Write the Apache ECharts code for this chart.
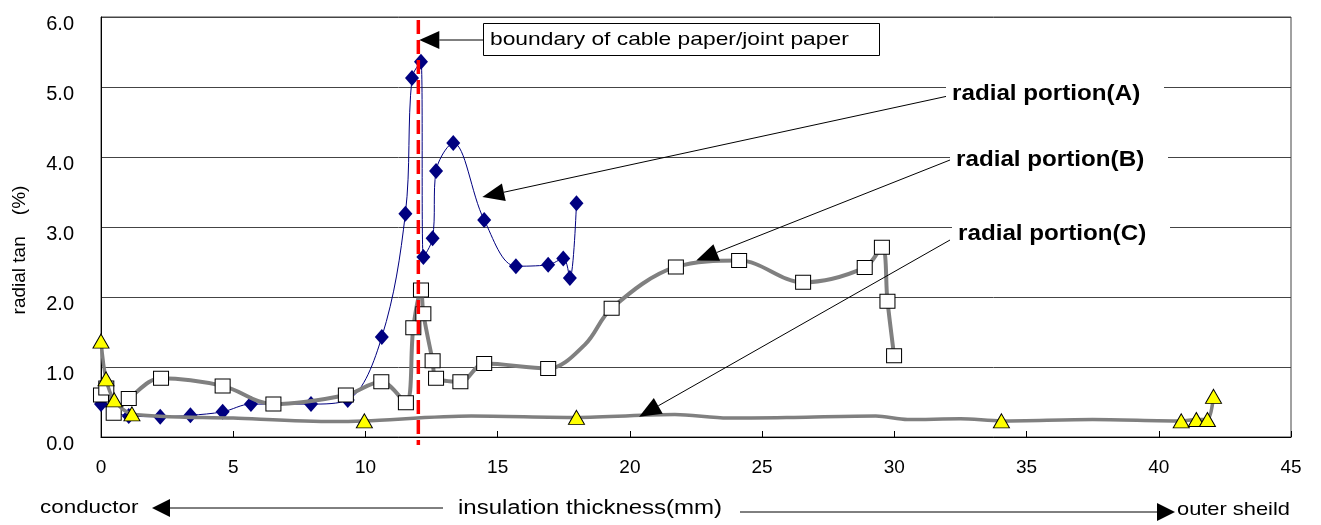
<!DOCTYPE html>
<html>
<head>
<meta charset="utf-8">
<script src="https://cdn.jsdelivr.net/npm/echarts@6/dist/echarts.min.js"></script>
<style>
  html, body { margin: 0; padding: 0; background: #fff; }
  #chart { width: 1321px; height: 525px; }
</style>
</head>
<body>
<div id="chart"></div>
<script>
// radial portion (A) - blue diamonds
const aX = [0, 1.05, 2.24, 3.38, 4.6, 5.67, 7.94, 9.33, 10.62, 11.51, 11.76, 12.10, 12.19, 12.54, 12.67, 13.32, 14.49, 15.69, 16.91, 17.48, 17.73, 17.98];
const aY = [0.47, 0.30, 0.29, 0.31, 0.36, 0.47, 0.47, 0.53, 1.43, 3.19, 5.13, 5.36, 2.57, 2.84, 3.80, 4.20, 3.10, 2.44, 2.46, 2.55, 2.27, 3.34];

// radial portion (B) - white squares
const bX = [0, 0.2, 0.48, 1.05, 2.27, 4.6, 6.52, 9.26, 10.6, 11.53, 11.81, 12.10, 12.19, 12.54, 12.67, 13.59, 14.49, 16.91, 19.31, 21.74, 24.13, 26.55, 28.88, 29.53, 29.74, 29.99];
const bY = [0.60, 0.70, 0.34, 0.55, 0.84, 0.73, 0.47, 0.60, 0.79, 0.49, 1.56, 2.10, 1.76, 1.09, 0.84, 0.79, 1.05, 0.98, 1.84, 2.43, 2.52, 2.21, 2.42, 2.71, 1.94, 1.16];
// points on the B line without marker
const bLineX = [18.3];
const bLineY = [1.32];

// radial portion (C) - yellow triangles
const cX = [0, 0.19, 0.50, 1.17, 9.96, 17.98, 34.05, 40.85, 41.42, 41.84, 42.07];
const cY = [1.37, 0.83, 0.53, 0.33, 0.23, 0.28, 0.23, 0.23, 0.25, 0.25, 0.58];
// points on the C line without marker
const cLineX = [5.0, 8.8, 14.0, 21.7, 23.7, 26.2, 29.3, 30.5, 32.5, 37.5];
const cLineY = [0.27, 0.22, 0.30, 0.32, 0.27, 0.28, 0.30, 0.25, 0.26, 0.25];

const boundaryX = 12.0;

const FONT = "'Liberation Sans', Arial, sans-serif";

// 合并有标记点和无标记点，按x排序
function merge(xs, ys, lx, ly) {
  let pts = xs.map((x, i) => ({ value: [x, ys[i]] }));
  lx.forEach((x, i) => pts.push({ value: [x, ly[i]], symbol: 'none' }));
  pts.sort((p, q) => p.value[0] - q.value[0]);
  return pts;
}

const myChart = echarts.init(document.getElementById('chart'));

myChart.setOption({
  animation: false,
  backgroundColor: '#fff',
  grid: { left: 101, right: 30, top: 17, bottom: 88, show: true, borderColor: '#444', borderWidth: 1 },
  xAxis: {
    type: 'value',
    min: 0, max: 45, interval: 5,
    axisLine: { lineStyle: { color: '#000', width: 1 } },
    axisTick: { inside: true, length: 6, lineStyle: { color: '#000' } },
    splitLine: { show: false },
    axisLabel: { color: '#000', fontSize: 19, fontFamily: FONT, margin: 21 }
  },
  yAxis: {
    type: 'value',
    min: 0, max: 6, interval: 1,
    axisLine: { show: true, lineStyle: { color: '#000', width: 1 } },
    axisTick: { show: false },
    splitLine: { lineStyle: { color: '#444', width: 1 } },
    axisLabel: {
      color: '#000', fontSize: 20, fontFamily: FONT, margin: 27,
      verticalAlign: 'top', lineHeight: 14,
      formatter: v => v.toFixed(1)
    }
  },
  series: [
    {
      name: 'radial portion(A)',
      type: 'line',
      data: aX.map((x, i) => [x, aY[i]]),
      smooth: 0.35,
      symbol: 'diamond',
      symbolSize: [14, 16],
      itemStyle: { color: '#000080', borderWidth: 0 },
      lineStyle: { color: '#000080', width: 1 },
      z: 2
    },
    {
      name: 'radial portion(B)',
      type: 'line',
      data: merge(bX, bY, bLineX, bLineY),
      smooth: 0.35,
      symbol: 'rect',
      symbolSize: [15, 14],
      itemStyle: { color: '#fff', borderColor: '#000', borderWidth: 1 },
      lineStyle: { color: '#808080', width: 4 },
      z: 3
    },
    {
      name: 'radial portion(C)',
      type: 'line',
      data: merge(cX, cY, cLineX, cLineY),
      smooth: 0.3,
      symbol: 'triangle',
      symbolSize: [16, 14],
      itemStyle: { color: '#ffff00', borderColor: '#000', borderWidth: 1 },
      lineStyle: { color: '#808080', width: 3.5 },
      z: 4
    }
  ]
});

// 箭头：线 + 实心三角
function arrow(x1, y1, x2, y2, len, half) {
  const dx = x2 - x1, dy = y2 - y1;
  const d = Math.sqrt(dx * dx + dy * dy);
  const ux = dx / d, uy = dy / d;
  const bx = x2 - ux * len, by = y2 - uy * len;
  return [
    { type: 'line', shape: { x1: x1, y1: y1, x2: bx, y2: by }, style: { stroke: '#000', lineWidth: 1 }, z: 100 },
    { type: 'polygon', shape: { points: [[x2, y2], [bx - uy * half, by + ux * half], [bx + uy * half, by - ux * half]] }, style: { fill: '#000' }, z: 100 }
  ];
}

// 文字（横向拉伸，模仿原图的宽字体）
function text(str, x, y, size, sx, opts) {
  return Object.assign({
    type: 'text', x: x, y: y, z: 101, scaleX: sx,
    style: { text: str, fill: '#000', font: size + 'px ' + FONT, textVerticalAlign: 'middle' }
  }, opts || {});
}

function label(str, x, y) {
  return {
    type: 'group', x: x, y: y, z: 101,
    children: [
      { type: 'rect', shape: { x: 0, y: -13, width: 218, height: 26 }, style: { fill: '#fff' }, z: 101 },
      { type: 'text', x: 6, y: 0, scaleX: 1.1, z: 102, style: { text: str, fill: '#000', font: 'bold 22px ' + FONT, textVerticalAlign: 'middle' } }
    ]
  };
}

const px = (x, y) => myChart.convertToPixel({ gridIndex: 0 }, [x, y]);
const bx = px(boundaryX, 0)[0];
const tipA = px(14.42, 3.43);
const tipB = px(22.51, 2.52);
const tipC = px(20.35, 0.29);

let g = [];
// 边界红色虚线
g.push({ type: 'line', shape: { x1: bx, y1: 20, x2: bx, y2: 445 }, style: { stroke: '#ff0000', lineWidth: 3.5, lineDash: [14, 6] }, z: 99 });
// 标注框
g.push({ type: 'rect', shape: { x: 483.5, y: 23.5, width: 396, height: 32 }, style: { fill: '#fff', stroke: '#000', lineWidth: 1 }, z: 100 });
g.push(text('boundary of cable paper/joint paper', 490, 40, 19, 1.2));
g = g.concat(arrow(483, 40, bx + 1, 40, 20, 9));
// radial portion 标签
g.push(label('radial portion(A)', 946, 94));
g.push(label('radial portion(B)', 950, 160));
g.push(label('radial portion(C)', 952, 234));
g = g.concat(arrow(948, 96, tipA[0], tipA[1], 22, 9));
g = g.concat(arrow(950, 160, tipB[0], tipB[1], 22, 9));
g = g.concat(arrow(950, 240, tipC[0], tipC[1], 22, 9));
// y轴标题
g.push({ type: 'text', x: 20, y: 250, rotation: Math.PI / 2, z: 101, style: { text: 'radial tan    (%)', fill: '#000', font: '19px ' + FONT, textAlign: 'center', textVerticalAlign: 'middle' } });
// 底部说明
g.push(text('conductor', 40, 508, 19, 1.18));
g.push(text('insulation thickness(mm)', 590, 508, 20, 1.2, {}));
g[g.length - 1].style.textAlign = 'center';
g.push(text('outer sheild', 1177, 510, 19, 1.15));
g = g.concat(arrow(443, 508, 152, 508, 18, 9));
g = g.concat(arrow(740, 512, 1175, 512, 18, 9));

myChart.setOption({ graphic: g });
</script>
</body>
</html>
